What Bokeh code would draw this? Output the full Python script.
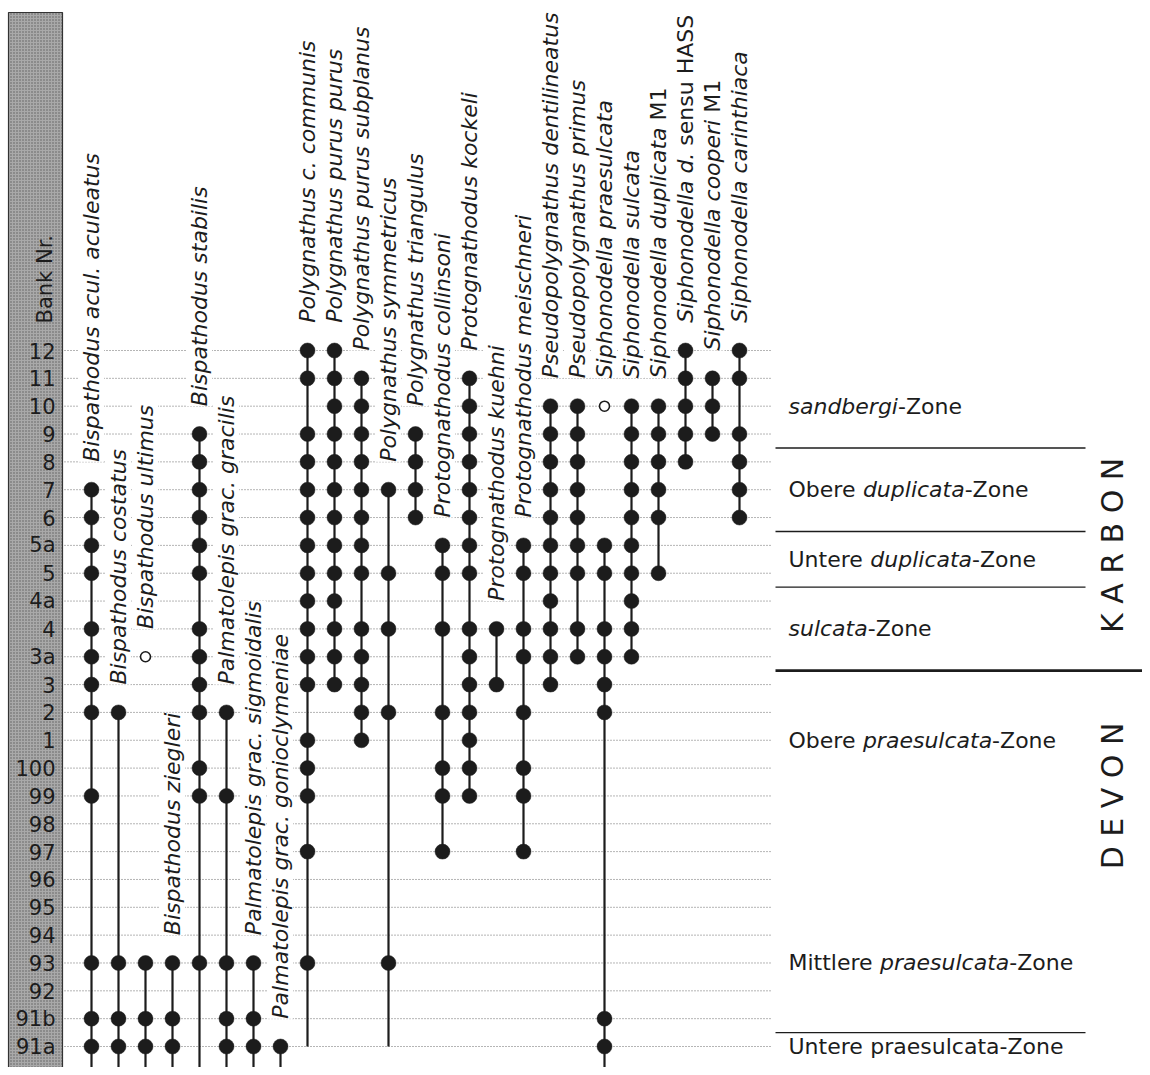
import math
from bokeh.plotting import figure
from bokeh.models import Range1d, ColumnDataSource
from bokeh.embed import file_html
from bokeh.resources import INLINE
from bokeh.core.properties import value

# ---------------- data ----------------
levels = ["12", "11", "10", "9", "8", "7", "6", "5a", "5", "4a", "4", "3a", "3",
          "2", "1", "100", "99", "98", "97", "96", "95", "94", "93", "92", "91b", "91a"]

names = [
    "Bispathodus acul. aculeatus",
    "Bispathodus costatus",
    "Bispathodus ultimus",
    "Bispathodus ziegleri",
    "Bispathodus stabilis",
    "Palmatolepis grac. gracilis",
    "Palmatolepis grac. sigmoidalis",
    "Palmatolepis grac. gonioclymeniae",
    "Polygnathus c. communis",
    "Polygnathus purus purus",
    "Polygnathus purus subplanus",
    "Polygnathus symmetricus",
    "Polygnathus triangulus",
    "Protognathodus collinsoni",
    "Protognathodus kockeli",
    "Protognathodus kuehni",
    "Protognathodus meischneri",
    "Pseudopolygnathus dentilineatus",
    "Pseudopolygnathus primus",
    "Siphonodella praesulcata",
    "Siphonodella sulcata",
    "Siphonodella duplicata",
    "Siphonodella d.",
    "Siphonodella cooperi",
    "Siphonodella carinthiaca",
]
name_suffix = [""] * 21 + ["M1", "sensu HASS", "M1", ""]

found = [
    ["7", "6", "5a", "5", "4", "3a", "3", "2", "99", "93", "91b", "91a"],
    ["2", "93", "91b", "91a"],
    ["93", "91b", "91a"],
    ["93", "91b", "91a"],
    ["9", "8", "7", "6", "5a", "5", "4", "3a", "3", "2", "100", "99", "93"],
    ["2", "99", "93", "91b", "91a"],
    ["93", "91b", "91a"],
    ["91a"],
    ["12", "11", "9", "8", "7", "6", "5a", "5", "4a", "4", "3a", "3", "1", "100", "99", "97", "93"],
    ["12", "11", "10", "9", "8", "7", "6", "5a", "5", "4a", "4", "3a", "3"],
    ["11", "10", "9", "8", "7", "6", "5a", "5", "4", "3a", "3", "2", "1"],
    ["7", "5", "4", "2", "93"],
    ["9", "8", "7", "6"],
    ["5a", "5", "4", "2", "100", "99", "97"],
    ["11", "10", "9", "8", "7", "6", "5a", "5", "4", "3a", "3", "2", "1", "100", "99"],
    ["4", "3"],
    ["5a", "5", "4", "3a", "2", "100", "99", "97"],
    ["10", "9", "8", "7", "6", "5a", "5", "4a", "4", "3a", "3"],
    ["10", "9", "8", "7", "6", "5a", "5", "4", "3a"],
    ["5a", "5", "4", "3a", "3", "2", "91b", "91a"],
    ["10", "9", "8", "7", "6", "5a", "5", "4a", "4", "3a"],
    ["10", "9", "8", "7", "6", "5"],
    ["12", "11", "10", "9", "8"],
    ["11", "10", "9"],
    ["12", "11", "9", "8", "7", "6"],
]
# uncertain records (open circles)
found_open = [[], [], ["3a"], [], [], [], [], [], [], [], [], [], [], [], [], [], [], [], [],
              ["10"], [], [], [], [], []]

# range lines: top and bottom level; "below" = continues below the section
range_top = ["7", "2", "93", "93", "9", "2", "93", "91a", "12", "12", "11", "7", "9", "5a", "11",
             "4", "5a", "10", "10", "5a", "10", "10", "12", "11", "12"]
range_bottom = ["below", "below", "below", "below", "below", "below", "below", "below", "91a", "3",
                "1", "91a", "6", "97", "99", "3", "97", "3", "3a", "below", "3a", "5", "8", "9", "6"]

zone_prefix = ["", "Obere ", "Untere ", "", "Obere ", "Mittlere ", "Untere "]
zone_word = ["sandbergi", "duplicata", "duplicata", "sulcata", "praesulcata", "praesulcata", "praesulcata"]
zone_word_italic = [True, True, True, True, True, True, False]
zone_anchor = [("10", "10"), ("7", "7"), ("5a", "5"), ("4", "4"), ("1", "1"), ("93", "93"), ("91a", "91a")]
zone_boundaries_below = ["9", "6", "5", "3a", "91b"]
era_boundary_below = "3a"

eras = ["K A R B O N", "D E V O N"]
era_anchor = ["5a", "99"]

# ---------------- layout helpers (pixel geometry of the page) ----------------
X0, DX = 91.0, 27.0      # column 0 position and column spacing (px)
Y0, DY = 350.0, 27.84    # level 0 position and level spacing (px)


def xd(px):
    return (px - X0) / DX


def yd(px):
    return (px - Y0) / DY


LI = {lv: i for i, lv in enumerate(levels)}
BELOW = len(levels) - 1 + 0.8

# DejaVu Sans advance widths (units per em 2048)
W = {'O': 1612, 'U': 1499, 'M': 1767, 'S': 1300, 'b': 1300, 'e': 1260, 'r': 842, ' ': 651,
     'n': 1298, 't': 803, 'i': 569, 'l': 569, 's': 1067, 'a': 1255, 'd': 1300, 'g': 1300,
     'u': 1298, 'p': 1300, 'c': 1126, 'h': 1298, 'o': 1253, '.': 651, '-': 739, 'Z': 1403}


def text_px(s, size):
    return sum(W.get(c, 1250) for c in s) / 2048.0 * size


FONT = value("DejaVu Sans")
INK = "#1c1c1c"

p = figure(width=1142, height=1067,
           x_range=Range1d(xd(0), xd(1142)), y_range=Range1d(yd(1067), yd(0)),
           output_backend="svg", toolbar_location=None, min_border=0,
           x_axis_type=None, y_axis_type=None, outline_line_color=None,
           background_fill_color="white", border_fill_color="white")
p.xgrid.visible = False
p.ygrid.visible = False

# left stippled box
p.quad(left=[xd(8)], right=[xd(62)], top=[yd(12)], bottom=[yd(1069)],
       fill_color="#a9a9a9", line_color="#333333", line_width=1.2,
       hatch_pattern="dot", hatch_color="#2a2a2a", hatch_scale=3, hatch_weight=1, hatch_alpha=0.6)

# level numbers
p.text(x=[xd(55)] * len(levels), y=list(range(len(levels))), text=levels,
       text_font=FONT, text_font_size="21px", text_align="right", text_baseline="middle",
       text_color=INK)
p.text(x=[xd(44)], y=[-0.97], text=["Bank Nr."], angle=math.pi / 2,
       text_font=FONT, text_font_size="21px", text_align="left", text_baseline="middle",
       text_color=INK)

# dotted level lines
p.segment(x0=[xd(64)] * len(levels), x1=[xd(770)] * len(levels),
          y0=list(range(len(levels))), y1=list(range(len(levels))),
          line_color="#6a6a6a", line_width=1, line_dash="1 2")

# species labels (rotated)
lab_x, lab_y, lab_t = [], [], []
suf_x, suf_y, suf_t = [], [], []
for i, nm in enumerate(names):
    top = min(LI[l] for l in found[i] + found_open[i])
    y_start = top - 1.0
    lab_x.append(i)
    lab_y.append(y_start)
    lab_t.append(nm)
    if name_suffix[i]:
        suf_x.append(i)
        suf_y.append(y_start - text_px(nm + " ", 22) / DY)
        suf_t.append(name_suffix[i])
p.text(x=lab_x, y=lab_y, text=lab_t, angle=math.pi / 2, text_font=FONT,
       text_font_style="italic", text_font_size="22px", text_align="left",
       text_baseline="middle", text_color=INK, background_fill_color="white")
p.text(x=suf_x, y=suf_y, text=suf_t, angle=math.pi / 2, text_font=FONT,
       text_font_style="normal", text_font_size="22px", text_align="left",
       text_baseline="middle", text_color=INK, background_fill_color="white")

# range lines
seg_x, seg_top, seg_bot = [], [], []
for i in range(len(names)):
    seg_x.append(i)
    seg_top.append(LI[range_top[i]])
    seg_bot.append(BELOW if range_bottom[i] == "below" else LI[range_bottom[i]])
p.segment(x0=seg_x, x1=seg_x, y0=seg_top, y1=seg_bot, line_color=INK, line_width=2.2)

# occurrence dots
dx, dy = [], []
for i, lst in enumerate(found):
    for l in lst:
        dx.append(i)
        dy.append(LI[l])
p.scatter(x=dx, y=dy, size=15, marker="circle", fill_color=INK, line_color=INK, line_width=0.5)

ox, oy = [], []
for i, lst in enumerate(found_open):
    for l in lst:
        ox.append(i)
        oy.append(LI[l])
p.scatter(x=ox, y=oy, size=10, marker="circle", fill_color="white", line_color=INK, line_width=1.6)

# zone boundaries
for lv in zone_boundaries_below:
    yb = LI[lv] + 0.5
    if lv == era_boundary_below:
        p.segment(x0=[xd(775)], x1=[xd(1142)], y0=[yb], y1=[yb], line_color=INK, line_width=2.6)
    else:
        p.segment(x0=[xd(775)], x1=[xd(1085)], y0=[yb], y1=[yb], line_color=INK, line_width=1.4)

# zone labels (mixed upright / italic)
norm = dict(x=[], y=[], text=[])
ital = dict(x=[], y=[], text=[])
ZS = 22
for k in range(len(zone_word)):
    yz = (LI[zone_anchor[k][0]] + LI[zone_anchor[k][1]]) / 2.0
    xpx = 788.0
    parts = [(zone_prefix[k], False), (zone_word[k], zone_word_italic[k]), ("-Zone", False)]
    for s, it in parts:
        if not s:
            continue
        tgt = ital if it else norm
        tgt["x"].append(xd(xpx))
        tgt["y"].append(yz)
        tgt["text"].append(s.strip())
        xpx += text_px(s, ZS)
p.text(x="x", y="y", text="text", source=ColumnDataSource(norm), text_font=FONT,
       text_font_size=f"{ZS}px", text_align="left", text_baseline="middle", text_color=INK)
p.text(x="x", y="y", text="text", source=ColumnDataSource(ital), text_font=FONT,
       text_font_style="italic", text_font_size=f"{ZS}px", text_align="left",
       text_baseline="middle", text_color=INK)

# era labels
p.text(x=[xd(1112)] * 2, y=[LI[a] for a in era_anchor], text=eras, angle=math.pi / 2,
       text_font=FONT, text_font_size="30px", text_align="center", text_baseline="middle",
       text_color=INK)

open("out.html", "w").write(file_html(p, INLINE))
